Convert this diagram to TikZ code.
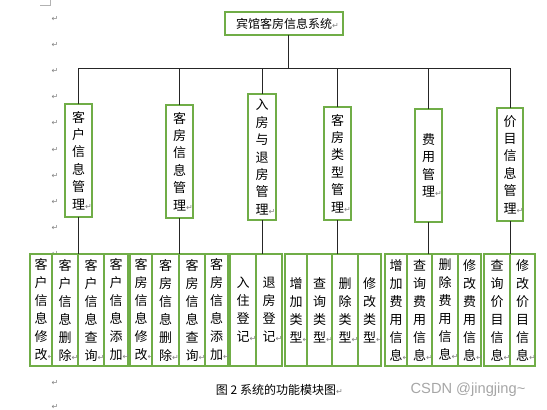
\documentclass[tikz,border=0pt]{standalone}
\usepackage{fontspec}
\usepackage{xcolor}
\usepackage{tikz}
\usetikzlibrary{positioning}
\newfontfamily\cjk{Noto Sans CJK SC}
\newfontfamily\symf{DejaVu Sans}
\newfontfamily\wmf{Liberation Sans}
\definecolor{boxgreen}{RGB}{112,173,71}
\newcommand{\ret}{\rlap{\textcolor{gray}{\symf\fontsize{6}{6}\selectfont ↵}}}

\begin{document}
\begin{tikzpicture}[
    x=0.75pt, y=-0.75pt,
    node distance=0pt,
    every node/.style={inner sep=0pt, outer sep=0pt},
    head/.style={rectangle, draw=boxgreen, line width=0.9pt, minimum width=88.5pt, minimum height=17.25pt, font=\cjk\fontsize{9}{11}\selectfont},
    mid/.style={rectangle, draw=boxgreen, fill=white, line width=0.9pt, minimum width=20.25pt, minimum height=84.75pt, align=center, font=\cjk\fontsize{9.75}{13.1}\selectfont},
    leaf/.style={rectangle, draw=boxgreen, fill=white, line width=0.9pt, minimum width=#1, minimum height=84pt, align=center, font=\cjk\fontsize{9.75}{13.5}\selectfont},
    leaf/.default=18pt,
    link/.style={draw=black!85, line width=0.75pt},
    retmark/.style={text=gray, font=\symf\fontsize{6}{6}\selectfont}
]
    \useasboundingbox (0,0) rectangle (547,410);

    % Page corner and paragraph marks
    \draw[gray!60, line width=0.5pt] (40,5) -- (50,5) -- (50,0);
    \foreach \y [count=\i] in {19,45,71,97,123,150,176,202,228,254,383,407}
        \node[retmark] (mark\i) at (55,\y) {↵};

    % System
    \node[head] (title) at (284,23.5) {宾馆客房信息系统\ret};

    % Modules
    \node[mid] (cust) at (78.5,160.5) {客\\户\\信\\息\\管\\理\ret};
    \node[mid] (room) at (179.5,161.5) {客\\房\\信\\息\\管\\理\ret};
    \node[mid, minimum width=21pt, minimum height=94.5pt] (stay) at (262,157) {入\\房\\与\\退\\房\\管\\理\ret};
    \node[mid] (rtype) at (337.5,163.5) {客\\房\\类\\型\\管\\理\ret};
    \node[mid] (fee) at (428.5,165.5) {费\\用\\管\\理\ret};
    \node[mid, minimum width=19.5pt] (price) at (510,164.5) {价\\目\\信\\息\\管\\理\ret};

    % Bus
    \coordinate (bus) at (288,69);
    \draw[link] (title.south -| bus) -- (bus);
    \draw[link] (cust.north) -- (cust.north |- bus) -- (price.north |- bus) -- (price.north);
    \foreach \n in {room,stay,rtype,fee}
        \draw[link] (\n.north) -- (\n.north |- bus);

    % Customer functions
    \node[leaf=16.5pt, anchor=north west] (custmod) at (30,254) {客\\户\\信\\息\\修\\改\ret};
    \node[leaf=19.5pt, right=of custmod] (custdel) {客\\户\\信\\息\\删\\除\ret};
    \node[leaf=19.5pt, right=of custdel] (custqry) {客\\户\\信\\息\\查\\询\ret};
    \node[leaf, right=of custqry] (custadd) {客\\户\\信\\息\\添\\加\ret};

    % Room functions
    \node[leaf=16.5pt, anchor=north west] (roommod) at (130,254) {客\\房\\信\\息\\修\\改\ret};
    \node[leaf=20.25pt, right=of roommod] (roomdel) {客\\房\\信\\息\\删\\除\ret};
    \node[leaf=19.5pt, right=of roomdel] (roomqry) {客\\房\\信\\息\\查\\询\ret};
    \node[leaf=17.25pt, right=of roomqry] (roomadd) {客\\房\\信\\息\\添\\加\ret};

    % Check in / out
    \node[leaf=19.5pt, anchor=north west] (checkin) at (230,254) {入\\住\\登\\记\ret};
    \node[leaf=19.5pt, right=of checkin] (checkout) {退\\房\\登\\记\ret};

    % Room types
    \node[leaf=16.5pt, anchor=north west] (typeadd) at (285,254) {增\\加\\类\\型\ret};
    \node[leaf=18.75pt, right=of typeadd] (typeqry) {查\\询\\类\\型\ret};
    \node[leaf=19.5pt, right=of typeqry] (typedel) {删\\除\\类\\型\ret};
    \node[leaf=17.25pt, right=of typedel] (typemod) {修\\改\\类\\型\ret};

    % Fees
    \node[leaf=16.5pt, anchor=north west] (feeadd) at (385,254) {增\\加\\费\\用\\信\\息\ret};
    \node[leaf=18.75pt, right=of feeadd] (feeqry) {查\\询\\费\\用\\信\\息\ret};
    \node[leaf=19.5pt, right=of feeqry] (feedel) {删\\除\\费\\用\\信\\息\ret};
    \node[leaf=17.25pt, right=of feedel] (feemod) {修\\改\\费\\用\\信\\息\ret};

    % Prices
    \node[leaf=19.5pt, anchor=north west] (priceqry) at (484,254) {查\\询\\价\\目\\信\\息\ret};
    \node[leaf=18.75pt, right=of priceqry] (pricemod) {修\\改\\价\\目\\信\\息\ret};

    % Links down
    \draw[link] (cust.south) -- (cust.south |- custqry.north);
    \draw[link] (room.south) -- (room.south |- roomqry.north);
    \draw[link] (stay.south) -- (stay.south |- checkin.north);
    \draw[link] (rtype.south) -- (rtype.south |- typedel.north);
    \draw[link] (fee.south) -- (fee.south |- feeqry.north);
    \draw[link] (price.south) -- (price.south |- pricemod.north);

    % Caption
    \node[font=\cjk\fontsize{9}{11}\selectfont] (caption) at (276,390) {图 2 系统的功能模块图\ret};
    \node[font=\wmf\fontsize{11}{13}\selectfont, text=gray!70] (csdn) at (468,390) {CSDN @jingjing\textasciitilde};
\end{tikzpicture}
\end{document}
